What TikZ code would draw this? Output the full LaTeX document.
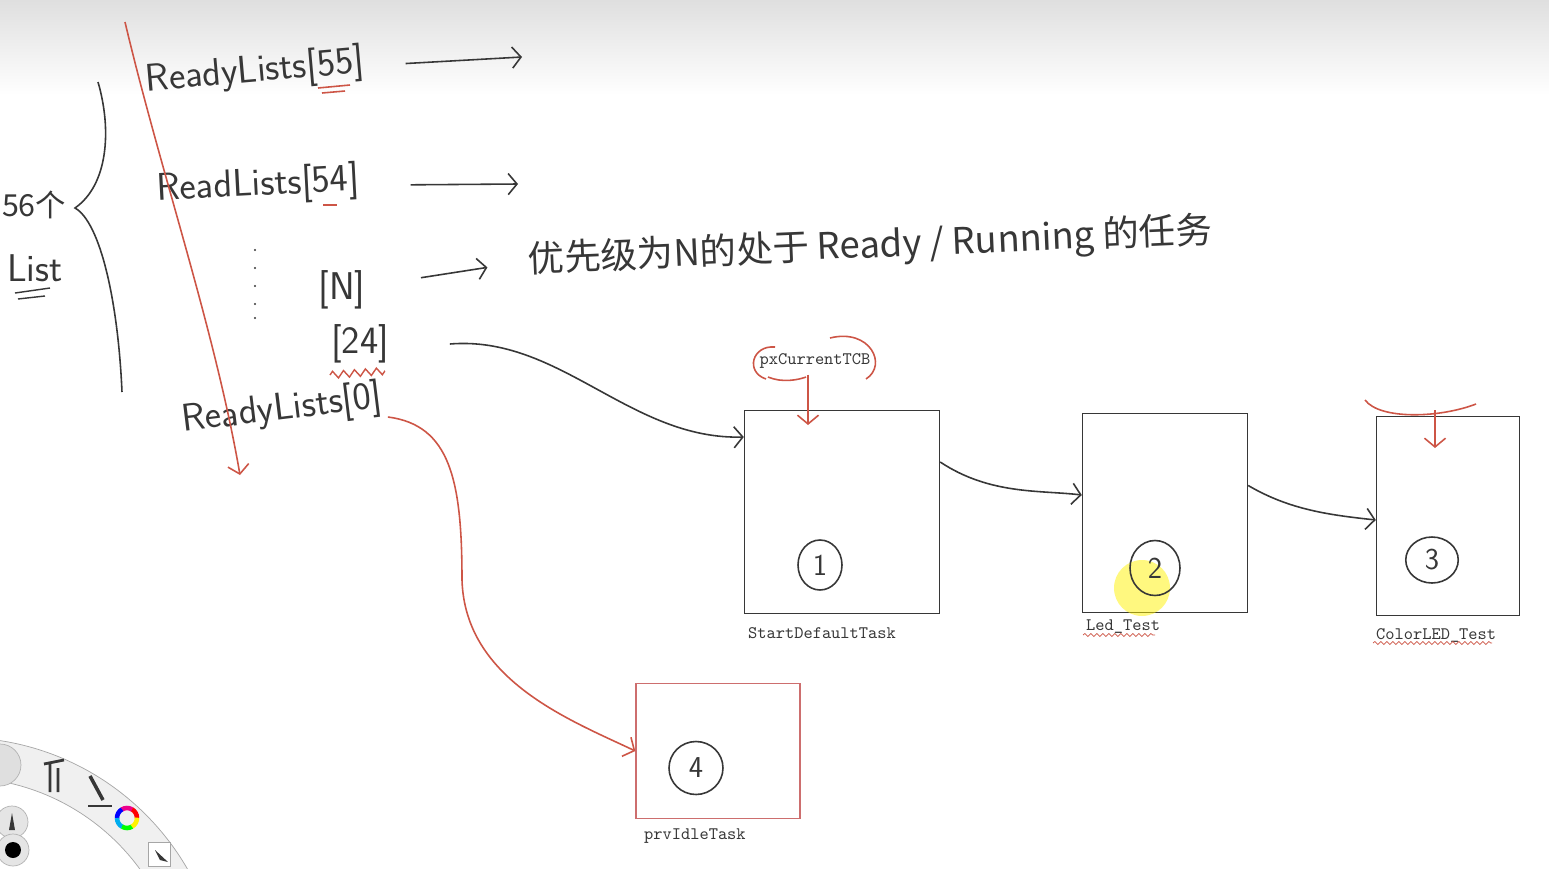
\documentclass[tikz,border=0pt]{standalone}
\usepackage{fontspec}
\newfontfamily\cjk{Noto Sans CJK SC}
\usetikzlibrary{arrows.meta,shapes.geometric,positioning,decorations.pathmorphing}
\definecolor{ink}{RGB}{55,55,55}
\definecolor{inkred}{RGB}{205,85,70}
\definecolor{idlered}{RGB}{205,110,110}

\begin{document}
\begin{tikzpicture}[x=0.02cm, y=-0.02cm,
    hand/.style={font=\sffamily\fontsize{22}{26}\selectfont, text=ink},
    code/.style={font=\ttfamily, text=ink},
    task/.style={rectangle, draw=ink, line width=0.8pt},
    num/.style={ellipse, draw=ink, line width=0.9pt, inner sep=0pt, font=\sffamily\LARGE, text=ink},
    arrow/.style={-{Straight Barb[length=5pt,width=12pt]}, draw=ink, line width=0.9pt},
    redarrow/.style={arrow, draw=inkred},
    squiggle/.style={draw=inkred, line width=0.4pt, decorate, decoration={snake, amplitude=0.03cm, segment length=0.12cm}}
]
    \useasboundingbox (0,0) rectangle (1549,869);
    \fill[white] (0,0) rectangle (1549,869);
    \shade[top color=gray!25, bottom color=white] (0,0) rectangle (1549,95);

    % ready lists
    \node[hand, rotate=5] (r55) at (255,72) {ReadyLists[55]};
    \node[hand, rotate=3] (r54) at (258,186) {ReadLists[54]};
    \node[hand] (rn) at (342,290) {[N]};
    \node[hand] (r24) at (360,344) {[24]};
    \node[hand, rotate=7] (r0) at (282,410) {ReadyLists[0]};
    \node[hand, font=\cjk\LARGE, anchor=west, inner sep=1pt] (cnt) at (0,205) {56个};
    \node[hand] (lst) at (35,268) {List};
    \node[hand, font=\cjk\huge, rotate=2.5, anchor=west] (desc) at (522,262) {优先级为N的处于 Ready / Running 的任务};

    \foreach \y in {250,268,286,304,318}
        \fill[ink] (255,\y) circle (0.7pt);

    % brace
    \draw[ink, line width=0.9pt] (98,82) .. controls (112,130) and (108,185) .. (75,208)
        .. controls (100,222) and (118,300) .. (122,392);

    % underlines
    \draw[ink, line width=0.8pt] (15,293) -- (50,288) (18,299) -- (45,296);
    \draw[inkred, line width=0.9pt] (318,88) -- (350,85) (322,93) -- (345,91);
    \draw[inkred, line width=0.9pt] (323,205) -- (337,205);
    \draw[inkred, line width=0.8pt, decorate, decoration={zigzag, amplitude=0.07cm, segment length=0.22cm}] (330,375) -- (385,371);

    % tasks
    \node[task, minimum width=3.9cm, minimum height=4.06cm] (t1) at (842,512) {};
    \node[task, minimum width=3.3cm, minimum height=3.98cm] (t2) at (1165,513) {};
    \node[task, minimum width=2.86cm, minimum height=3.98cm] (t3) at (1448,516) {};
    \node[task, draw=idlered, minimum width=3.28cm, minimum height=2.7cm] (t4) at (718,751) {};

    \fill[yellow, opacity=0.5] (1142,588) circle (0.56cm);

    \node[num, minimum width=0.88cm, minimum height=1.0cm] (n1) at (820,565) {1};
    \node[num, minimum width=1.0cm, minimum height=1.1cm] (n2) at (1155,568) {2};
    \node[num, minimum width=1.05cm, minimum height=0.92cm] (n3) at (1432,560) {3};
    \node[num, minimum width=1.08cm, minimum height=1.06cm] (n4) at (696,768) {4};

    \node[code, anchor=west] (l1) at (742,633) {StartDefaultTask};
    \node[code, anchor=west] (l2) at (1080,627) {Led\_Test};
    \node[code, anchor=west] (l3) at (1370,635) {ColorLED\_Test};
    \node[code, anchor=west] (l4) at (638,836) {prvIdleTask};
    \draw[squiggle] (1083,635) -- (1155,635);
    \draw[squiggle] (1373,643) -- (1492,643);

    % current tcb
    \node[code] (cur) at (815,361) {pxCurrentTCB};
    \draw[inkred, line width=0.9pt] (766,379) .. controls (745,372) and (752,345) .. (775,347)
        (830,338) .. controls (870,328) and (888,365) .. (866,379)
        (768,377) .. controls (782,383) and (798,380) .. (806,377);
    \coordinate (p1) at (808,425);
    \draw[redarrow] (cur.south -| p1) -- (p1);
    \draw[inkred, line width=0.9pt] (1365,400) .. controls (1380,420) and (1440,418) .. (1476,404);
    \coordinate (m3) at (1435,410);
    \coordinate (p3) at (1435,448);
    \draw[redarrow] (m3) -- (p3);

    % connectors
    \coordinate (e55) at (522,57);
    \coordinate (e54) at (518,184);
    \draw[arrow, shorten <=0.7cm] (r55) -- (e55);
    \draw[arrow, shorten <=0.9cm] (r54) -- (e54);
    \draw[arrow, shorten <=1cm, shorten >=0.7cm] (rn) -- (desc.west);
    \draw[arrow] ([xshift=1.1cm]r24.east) .. controls (560,335) and (630,440) .. ([yshift=1.5cm]t1.west);
    \draw[arrow] ([yshift=1cm]t1.east) .. controls (990,495) and (1040,490) .. ([yshift=0.36cm]t2.west);
    \draw[arrow] ([yshift=0.55cm]t2.east) .. controls (1290,510) and (1330,515) .. ([yshift=-0.08cm]t3.west);
    \draw[redarrow] ([yshift=-0.4cm]r0.east) .. controls (450,425) and (462,480) .. (462,580)
        .. controls (465,680) and (570,720) .. (t4.west);
    \coordinate (rtop) at (125,22);
    \coordinate (rbot) at (240,475);
    \draw[redarrow] (rtop) .. controls (160,170) and (215,330) .. (rbot);

    % tool ring
    \fill[gray!12, draw=gray!70, even odd rule] (-40,1000) circle (5.25cm) (-40,1000) circle (4.45cm);
    \draw[gray!60, fill=gray!25] (0,765) circle (0.42cm);
    \draw[ink, line width=1.6pt] (50,762) -- (50,792) (58,768) -- (58,792) (44,764) -- (64,760);
    \draw[ink, line width=2pt] (90,776) -- (103,800);
    \draw[ink, line width=0.8pt] (88,806) -- (112,806);
    \foreach \a/\c in {0/red,60/magenta,120/blue,180/cyan,240/green,300/yellow}
        \draw[\c, line width=2.6pt] (127,818) ++(\a:0.2cm) arc[start angle=\a, end angle=\a+62, radius=0.2cm];
    \draw[gray!60, fill=gray!20] (12,822) circle (0.32cm);
    \fill[ink] (12,813) -- (9,830) -- (15,830) -- cycle;
    \draw[gray!60, fill=gray!20] (13,850) circle (0.32cm);
    \fill[black] (13,850) circle (0.16cm);
    \draw[gray!70, fill=white] (148,842) rectangle (170,866);
    \fill[ink] (155,850) -- (168,862) -- (160,860) -- cycle;
\end{tikzpicture}
\end{document}
